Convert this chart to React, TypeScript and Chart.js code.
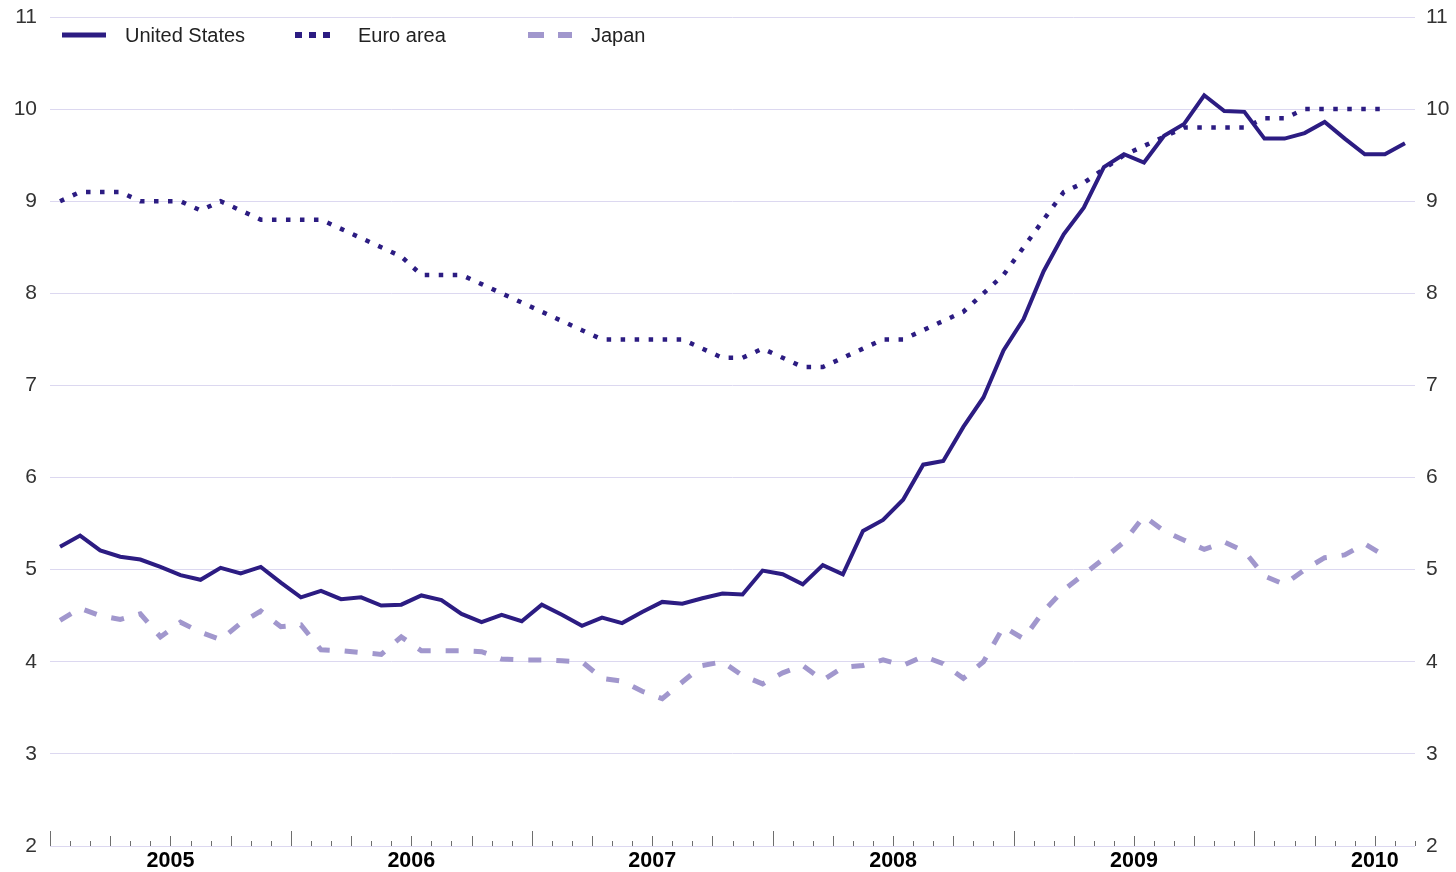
import React, { useEffect, useRef } from 'react';
import { Chart, registerables } from 'chart.js';

Chart.register(...registerables);

// ---- Data (monthly, Jan 2005 onwards), unemployment rate in % ----
const seriesNames = ['United States', 'Euro area', 'Japan'];
const yearLabels = ['2005', '2006', '2007', '2008', '2009', '2010'];
const monthCount = 68; // Jan 2005 – Aug 2010 (axis extent in months)
const yTicks = [2, 3, 4, 5, 6, 7, 8, 9, 10, 11];

const unitedStates = [
  5.25, 5.37, 5.21, 5.14, 5.11, 5.03, 4.94, 4.89, 5.02, 4.96, 5.03, 4.86,
  4.7, 4.77, 4.68, 4.7, 4.61, 4.62, 4.72, 4.67, 4.52, 4.43, 4.51, 4.44,
  4.62, 4.51, 4.39, 4.48, 4.42, 4.54, 4.65, 4.63, 4.69, 4.74, 4.73, 4.99,
  4.95, 4.84, 5.05, 4.95, 5.42, 5.54, 5.76, 6.14, 6.18, 6.55, 6.87, 7.38,
  7.72, 8.24, 8.64, 8.93, 9.37, 9.51, 9.42, 9.71, 9.84, 10.15, 9.98, 9.97,
  9.68, 9.68, 9.74, 9.86, 9.68, 9.51, 9.51, 9.63,
];

const euroArea = [
  9.0, 9.1, 9.1, 9.1, 9.0, 9.0, 9.0, 8.9, 9.0, 8.9, 8.8, 8.8,
  8.8, 8.8, 8.7, 8.6, 8.5, 8.4, 8.2, 8.2, 8.2, 8.1, 8.0, 7.9,
  7.8, 7.7, 7.6, 7.5, 7.5, 7.5, 7.5, 7.5, 7.4, 7.3, 7.3, 7.4,
  7.3, 7.2, 7.2, 7.3, 7.4, 7.5, 7.5, 7.6, 7.7, 7.8, 8.0, 8.2,
  8.5, 8.8, 9.1, 9.2, 9.35, 9.5, 9.6, 9.7, 9.8, 9.8, 9.8, 9.8,
  9.9, 9.9, 10.0, 10.0, 10.0, 10.0, 10.0,
];

const japan = [
  4.45, 4.58, 4.5, 4.46, 4.52, 4.27, 4.43, 4.32, 4.24, 4.42, 4.55, 4.38,
  4.4, 4.13, 4.12, 4.1, 4.08, 4.27, 4.12, 4.12, 4.12, 4.11, 4.03, 4.02,
  4.02, 4.01, 4.0, 3.82, 3.79, 3.68, 3.6, 3.78, 3.96, 4.0, 3.85, 3.76,
  3.88, 3.96, 3.8, 3.94, 3.96, 4.02, 3.96, 4.06, 3.98, 3.82, 4.0, 4.38,
  4.25, 4.55, 4.78, 4.95, 5.12, 5.3, 5.58, 5.42, 5.32, 5.22, 5.3, 5.2,
  4.93, 4.84, 5.0, 5.13, 5.16, 5.28, 5.15,
];

// ---- Styles ----
const FONT = "'Liberation Sans', Arial, Helvetica, sans-serif";
const DARK = 'rgb(44, 28, 130)';
const LIGHT = 'rgb(161, 151, 205)';
const GRID = 'rgb(220, 216, 240)';

const seriesStyles = [
  { color: DARK, width: 4, dash: [] as number[], legendDash: '', legendLen: 44, legendWidth: 5 },
  { color: DARK, width: 4.5, dash: [4.5, 9.5], legendDash: '7 7', legendLen: 35, legendWidth: 6 },
  { color: LIGHT, width: 5, dash: [13, 15], legendDash: '16 14', legendLen: 44, legendWidth: 6 },
];

const seriesData = [unitedStates, euroArea, japan];

const monthTickPlugin = {
  id: 'monthTicks',
  afterDraw(chart: any) {
    const xs = chart.scales.x;
    const bottom = chart.chartArea.bottom;
    const ctx = chart.ctx;
    ctx.save();
    ctx.strokeStyle = 'rgb(110,110,110)';
    ctx.lineWidth = 1;
    for (let m = 0; m <= monthCount; m++) {
      const len = m % 12 === 0 ? 15 : m % 3 === 0 ? 10 : 5;
      const px = Math.round(xs.getPixelForValue(m)) + 0.5;
      ctx.beginPath();
      ctx.moveTo(px, bottom);
      ctx.lineTo(px, bottom - len);
      ctx.stroke();
    }
    ctx.restore();
  },
};

export default function App() {
  const canvasRef = useRef<HTMLCanvasElement | null>(null);

  useEffect(() => {
    if (!canvasRef.current) return;
    const yAxisBase = (position: 'left' | 'right') => ({
      type: 'linear' as const,
      position,
      min: 2,
      max: 11,
      afterBuildTicks: (s: any) => {
        s.ticks = yTicks.map((v) => ({ value: v }));
      },
      border: { display: false },
      ticks: {
        color: '#333',
        padding: position === 'left' ? 13 : 11,
        font: { family: FONT, size: 21 },
      },
    });

    const chart = new Chart(canvasRef.current, {
      type: 'line',
      data: {
        datasets: seriesNames.map((name, k) => ({
          label: name,
          data: seriesData[k].map((v, i) => ({ x: i + 0.5, y: v })),
          borderColor: seriesStyles[k].color,
          backgroundColor: seriesStyles[k].color,
          borderWidth: seriesStyles[k].width,
          borderDash: seriesStyles[k].dash,
          borderCapStyle: 'butt',
          borderJoinStyle: 'miter',
          pointRadius: 0,
          tension: 0,
          fill: false,
        })),
      },
      options: {
        responsive: true,
        maintainAspectRatio: false,
        animation: false,
        layout: { padding: { top: 17, left: 0, right: 0, bottom: 0 } },
        plugins: {
          legend: { display: false },
          tooltip: { enabled: false },
        },
        scales: {
          x: {
            type: 'linear',
            position: 'bottom',
            min: 0,
            max: monthCount,
            grid: { display: false, drawTicks: false },
            border: { display: false },
            afterBuildTicks: (s: any) => {
              s.ticks = yearLabels.map((_, k) => ({ value: 12 * k + 6 }));
            },
            afterFit: (s: any) => {
              s.height = 26;
              s.paddingLeft = 0;
              s.paddingRight = 0;
            },
            ticks: {
              autoSkip: false,
              maxRotation: 0,
              padding: 2,
              color: '#000',
              font: { family: FONT, size: 21.5, weight: 'bold' },
              callback: (_v: any, i: number) => yearLabels[i],
            },
          },
          y: {
            ...yAxisBase('left'),
            grid: { color: GRID, lineWidth: 1, drawTicks: false },
            afterFit: (s: any) => {
              s.width = 50;
              s.paddingTop = 0;
              s.paddingBottom = 0;
            },
          },
          y2: {
            ...yAxisBase('right'),
            grid: { display: false, drawTicks: false },
            afterFit: (s: any) => {
              s.width = 41;
              s.paddingTop = 0;
              s.paddingBottom = 0;
            },
          },
        },
      } as any,
      plugins: [monthTickPlugin],
    });
    return () => chart.destroy();
  }, []);

  return (
    <div style={{ position: 'absolute', left: 0, top: 0, width: 1456, height: 872, background: '#fff' }}>
      <canvas ref={canvasRef} />
      {seriesNames.map((name, k) => (
        <div
          key={name}
          style={{
            position: 'absolute',
            left: 62 + 233 * k,
            top: 24,
            height: 22,
            display: 'flex',
            alignItems: 'center',
          }}
        >
          <svg width={44} height={8} style={{ display: 'block' }}>
            <line
              x1={0}
              y1={4}
              x2={seriesStyles[k].legendLen}
              y2={4}
              stroke={seriesStyles[k].color}
              strokeWidth={seriesStyles[k].legendWidth}
              strokeDasharray={seriesStyles[k].legendDash || undefined}
            />
          </svg>
          <span
            style={{
              marginLeft: 19,
              fontFamily: FONT,
              fontSize: 20,
              color: '#222',
              whiteSpace: 'nowrap',
              lineHeight: '22px',
            }}
          >
            {name}
          </span>
        </div>
      ))}
    </div>
  );
}
